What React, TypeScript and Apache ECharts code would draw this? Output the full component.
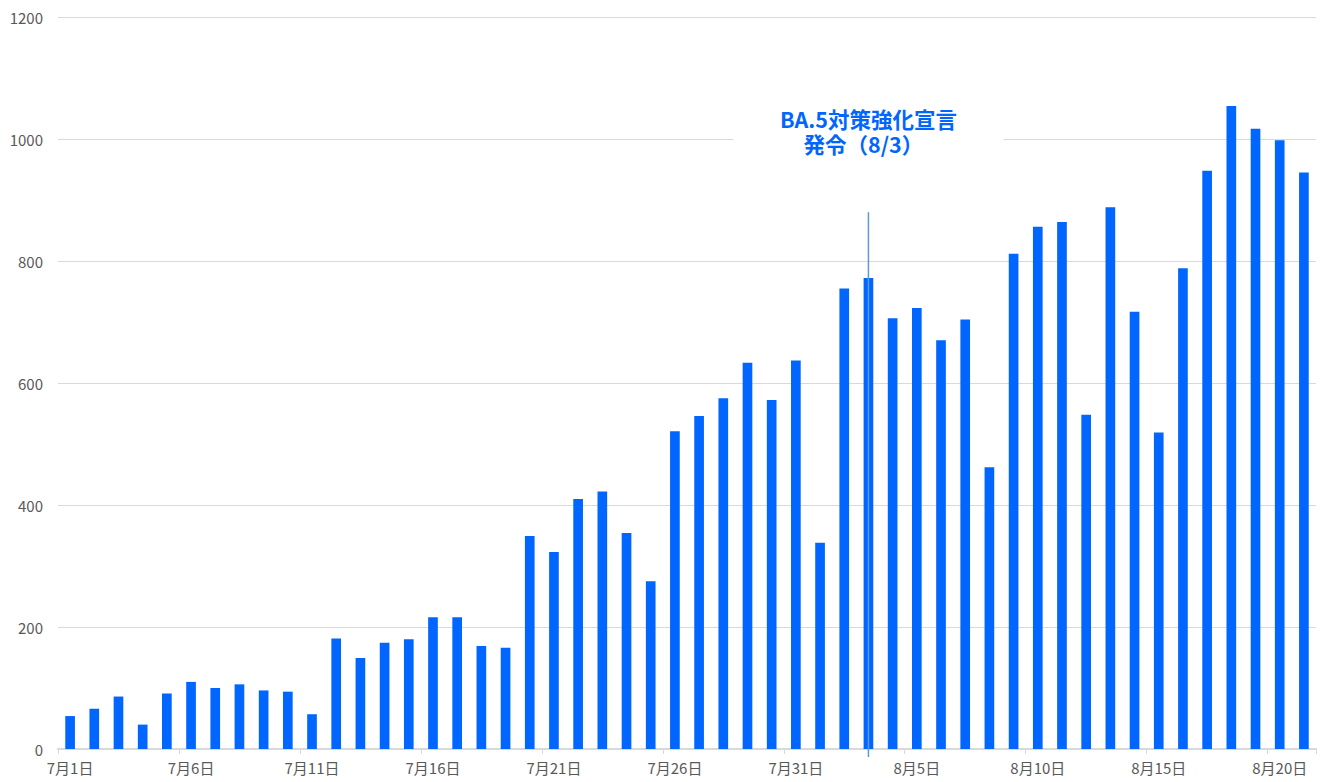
import React, { useEffect, useRef } from "react";
import * as echarts from "echarts";

const julyDays = Array.from({ length: 31 }, (_, i) => `7月${i + 1}日`);
const augustDays = Array.from({ length: 21 }, (_, i) => `8月${i + 1}日`);
const categories = [...julyDays, ...augustDays];

const cases = [
  54, 66, 86, 40, 91, 110, 100, 106, 96, 94,
  57, 181, 149, 174, 180, 216, 216, 169, 166, 349,
  323, 410, 422, 354, 275, 521, 546, 575, 633, 572,
  637, 338, 755, 772, 706, 723, 670, 704, 462, 812,
  856, 864, 548, 888, 717, 519, 788, 948, 1054, 1017,
  998, 945,
];

const yTicks = { min: 0, max: 1200, interval: 200 };
const markerDay = "8月3日";
const markerTop = 880;
const annotationLine1 = "BA.5対策強化宣言";
const annotationLine2 = "発令（8/3）";

const BLUE = "#0066FF";
const GRID_GREY = "#D9D9D9";
const LABEL_GREY = "#595959";
const FONT = "'Noto Sans CJK JP', 'Noto Sans', sans-serif";

export default function App() {
  const ref = useRef<HTMLDivElement>(null);

  useEffect(() => {
    if (!ref.current) return;
    const chart = echarts.init(ref.current, undefined, { renderer: "svg" });
    chart.setOption({
      animation: false,
      backgroundColor: "#ffffff",
      grid: { left: 58, right: 6, top: 17, bottom: 33, containLabel: false },
      xAxis: {
        type: "category",
        data: categories,
        boundaryGap: true,
        axisLine: { show: true, lineStyle: { color: GRID_GREY, width: 2 } },
        axisTick: { show: true, interval: 4, length: 5, lineStyle: { color: GRID_GREY, width: 1 } },
        axisLabel: {
          interval: 4,
          color: LABEL_GREY,
          fontSize: 15,
          fontFamily: FONT,
          margin: 11,
        },
        splitLine: { show: false },
      },
      yAxis: {
        type: "value",
        min: yTicks.min,
        max: yTicks.max,
        interval: yTicks.interval,
        axisLine: { show: false },
        axisTick: { show: false },
        axisLabel: {
          color: LABEL_GREY,
          fontSize: 15,
          fontFamily: FONT,
          margin: 15,
          formatter: (v: number) => String(v),
        },
        splitLine: { show: true, lineStyle: { color: GRID_GREY, width: 1 } },
      },
      series: [
        {
          type: "bar",
          data: cases,
          barWidth: "40%",
          itemStyle: { color: BLUE },
        },
      ],
    });

    const top = chart.convertToPixel({ xAxisIndex: 0, yAxisIndex: 0 }, [markerDay, markerTop]) as number[];
    const base = chart.convertToPixel({ xAxisIndex: 0, yAxisIndex: 0 }, [markerDay, 0]) as number[];
    const g1000 = chart.convertToPixel({ xAxisIndex: 0, yAxisIndex: 0 }, [markerDay, 1000]) as number[];
    const x = top[0];

    const lineStyle = (pad: number[]) => ({
      fill: BLUE,
      fontFamily: FONT,
      fontWeight: "bold",
      fontSize: 21.5,
      lineHeight: 25,
      padding: pad,
    });

    chart.setOption({
      graphic: [
        {
          type: "rect",
          z: 50,
          shape: { x: x - 135, y: g1000[1] - 35, width: 270, height: 60 },
          style: { fill: "#ffffff" },
        },
        {
          type: "text",
          z: 51,
          x: x,
          y: g1000[1] - 8,
          style: {
            text: `{a|${annotationLine1}}\n{b|${annotationLine2}}`,
            fill: BLUE,
            fontFamily: FONT,
            fontWeight: "bold",
            fontSize: 21.5,
            lineHeight: 25,
            align: "center",
            verticalAlign: "middle",
            rich: {
              a: lineStyle([0, 0, 0, 0]),
              b: lineStyle([0, 10, 0, 0]),
            },
          },
        },
        {
          type: "line",
          z: 52,
          shape: { x1: x, y1: top[1], x2: x, y2: base[1] + 8 },
          style: { stroke: "#5B9BD5", lineWidth: 1.5 },
        },
      ],
    });

    return () => chart.dispose();
  }, []);

  return (
    <div
      ref={ref}
      style={{ position: "fixed", left: 0, top: 0, width: 1322, height: 782, background: "#fff" }}
    />
  );
}
